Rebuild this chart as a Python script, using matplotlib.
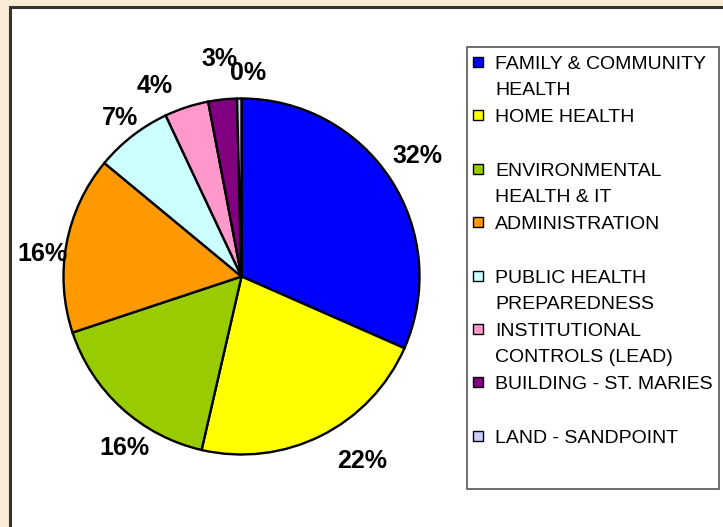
import matplotlib
matplotlib.use("Agg")
import matplotlib.pyplot as plt
from matplotlib.patches import Rectangle

# ---- data ----
categories = [
    "FAMILY & COMMUNITY\nHEALTH",
    "HOME HEALTH",
    "ENVIRONMENTAL\nHEALTH & IT",
    "ADMINISTRATION",
    "PUBLIC HEALTH\nPREPAREDNESS",
    "INSTITUTIONAL\nCONTROLS (LEAD)",
    "BUILDING - ST. MARIES",
    "LAND - SANDPOINT",
]
values = [31.6, 22.0, 16.3, 16.1, 7.0, 4.0, 2.6, 0.4]
colors = ["#0000FF", "#FFFF00", "#99CC00", "#FF9900",
          "#CCFFFF", "#FF99CC", "#800080", "#CCCCFF"]

# label centres (in pie-radius units, relative to pie centre)
label_xy = [(0.99, 0.688), (0.675, -1.025), (-0.66, -0.955), (-1.121, 0.138),
            (-0.683, 0.899), (-0.486, 1.084), (-0.121, 1.233), (0.037, 1.152)]

W, H = 723, 527
fig = plt.figure(figsize=(W / 100, H / 100), dpi=100)
fig.patch.set_facecolor("#f8ecd6")

def fx(x):
    return x / W

def fy(y):
    return 1 - y / H

# white chart panel with dark left/top border
fig.patches.append(Rectangle((fx(10), -0.1), 1.2, fy(7) + 0.1,
                             transform=fig.transFigure, facecolor="white",
                             edgecolor="#333333", linewidth=2.2, zorder=-5))

# pie
cx, cy, R = 241.5, 276.5, 178
ax = fig.add_axes([fx(cx - R), fy(cy + R), 2 * R / W, 2 * R / H])
ax.set_zorder(2)
ax.patch.set_alpha(0)
wedges, texts, autotexts = ax.pie(
    values, colors=colors, startangle=90, counterclock=False,
    autopct="%1.0f%%", pctdistance=1.15,
    wedgeprops=dict(edgecolor="black", linewidth=1.7))
ax.set_xlim(-1, 1)
ax.set_ylim(-1, 1)
ax.set_aspect("equal")
ax.axis("off")

for t, (lx, ly) in zip(autotexts, label_xy):
    t.set_position((lx, ly - 9 / R))
    t.set_va("baseline")
    t.set_ha("center")
    t.set_fontsize(18)
    t.set_fontweight("bold")
    t.set_family("Liberation Sans")
    t.set_color("black")
    t.set_clip_on(False)

# legend box
lx0, ly0, lx1, ly1 = 467, 47, 719, 489
fig.patches.append(Rectangle((fx(lx0), fy(ly1)), (lx1 - lx0) / W, (ly1 - ly0) / H,
                             transform=fig.transFigure, facecolor="white",
                             edgecolor="#555555", linewidth=1.2, zorder=1))
y_first = 62
step = 53.4
line_pitch = 26.5
for i, (cat, col) in enumerate(zip(categories, colors)):
    yc = y_first + i * step
    fig.patches.append(Rectangle((fx(473), fy(yc + 5)), 10 / W, 10 / H,
                                 transform=fig.transFigure, facecolor=col,
                                 edgecolor="black", linewidth=1.0, zorder=2))
    for j, line in enumerate(cat.split("\n")):
        fig.text(fx(495), fy(yc + j * line_pitch + 7), line,
                 fontsize=14, family="Liberation Sans", color="black",
                 ha="left", va="baseline", zorder=3)

fig.savefig("out.png", dpi=100, facecolor=fig.get_facecolor())
